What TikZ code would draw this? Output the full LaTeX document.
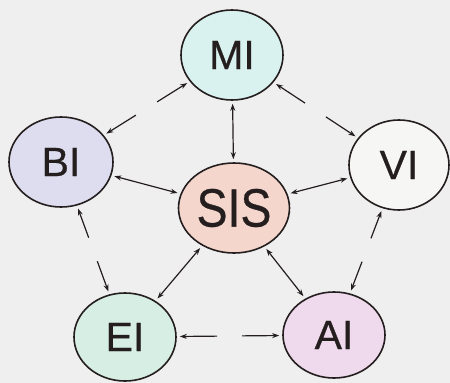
\documentclass[tikz,border=0pt]{standalone}
\usepackage{fontspec}
\setmainfont{Liberation Sans}
\newfontfamily\labelfont[FakeBold=0.6]{Liberation Sans}
\usetikzlibrary{shapes.geometric,arrows.meta,calc}
\definecolor{bg}{HTML}{EFEFF0}
\definecolor{ink}{HTML}{241E1E}
\definecolor{cMI}{HTML}{D9F1EF}
\definecolor{cBI}{HTML}{DDDDEF}
\definecolor{cVI}{HTML}{F6F6F4}
\definecolor{cSIS}{HTML}{F5D6CD}
\definecolor{cEI}{HTML}{D6EEE3}
\definecolor{cAI}{HTML}{EFD9EC}
\tikzset{
  x=1pt, y=-1pt,
  tip/.tip={Stealth[length=7pt,width=5pt]},
  blob/.style={ellipse, draw=ink, line width=1.6pt, inner sep=0pt,
    minimum width=102pt, minimum height=90pt, text=ink,
    font=\labelfont\fontsize{41}{41}\selectfont},
  link/.style={draw=ink, line width=1.2pt, tip-tip,
    shorten <=3pt, shorten >=3pt},
  half/.style={draw=ink, line width=1.2pt, -tip,
    shorten <=12.5pt, shorten >=3pt}
}
\begin{document}
\begin{tikzpicture}
\fill[bg] (0,0) rectangle (450,383);
\useasboundingbox (0,0) rectangle (450,383);

\node[blob, fill=cMI] (mi) at (232,55) {MI};
\node[blob, fill=cBI, minimum width=104pt] (bi) at (61,162) {BI};
\node[blob, fill=cVI, minimum width=100pt] (vi) at (399,165) {VI};
\node[blob, fill=cSIS, minimum width=111pt] (sis) at (234,208)
  {\fontsize{54}{54}\selectfont\scalebox{0.86}[1]{SIS}};
\node[blob, fill=cEI, minimum height=88pt] (ei) at (125,337) {EI};
\node[blob, fill=cAI, minimum height=86pt] (ai) at (334,335) {AI};

% spokes from the centre
\foreach \n in {mi,bi,vi,ei,ai}
  \draw[link] (sis) -- (\n);

% outer ring: broken lines with a head at each end
\foreach \a/\b in {mi/bi, mi/vi, bi/ei, vi/ai, ei/ai} {
  \coordinate (m-\a-\b) at ($(\a)!0.5!(\b)$);
  \draw[half] (m-\a-\b) -- (\a);
  \draw[half] (m-\a-\b) -- (\b);
}
\end{tikzpicture}
\end{document}
